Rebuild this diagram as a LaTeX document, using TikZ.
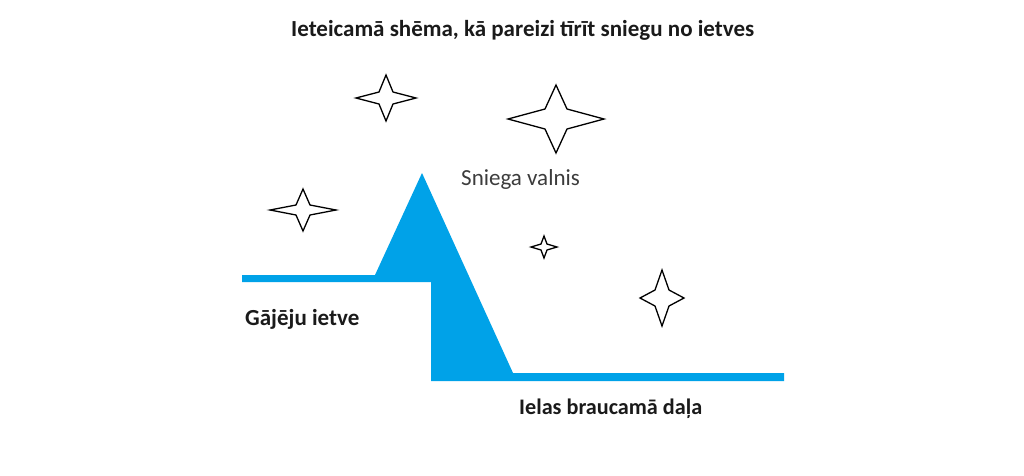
\documentclass[tikz,border=0pt]{standalone}
\usepackage{fontspec}
\setmainfont{Carlito}
\definecolor{snow}{HTML}{00A2E8}
\definecolor{ink}{HTML}{1A1A1A}
\newcommand{\sparkle}[7]{% name, cx, cy, half w, half h, inner x, inner y
  \draw[starline] (#2,#3) ++(0,-#5) coordinate (#1-top)
    -- (#2+#6,#3-#7) -- (#2+#4,#3) coordinate (#1-right)
    -- (#2+#6,#3+#7) -- (#2,#3+#5) coordinate (#1-bottom)
    -- (#2-#6,#3+#7) -- (#2-#4,#3) coordinate (#1-left)
    -- (#2-#6,#3-#7) -- cycle;}
\begin{document}
\begin{tikzpicture}[x=1pt,y=-1pt,
  starline/.style={draw=black,line width=1.3pt,line join=miter,fill=white},
  boldlabel/.style={font=\bfseries\fontsize{23}{26}\selectfont,text=ink,inner sep=0pt,anchor=base west},
  plainlabel/.style={font=\fontsize{23}{26}\selectfont,text=ink!85,inner sep=0pt,anchor=base west}]
\useasboundingbox[fill=white] (0,0) rectangle (1024,475);
% snow profile
\fill[snow] (242,275) coordinate (walkL) -- (375,275) coordinate (footL)
  -- (422,173) coordinate (peak) -- (513,373) coordinate (footR)
  -- (784,373) -- (784,381) coordinate (roadR) -- (431,381) coordinate (curbB)
  -- (431,282) coordinate (curbT) -- (242,282) -- cycle;
% stars
\sparkle{s1}{386}{98}{30}{23}{7}{6}
\sparkle{s2}{556}{119}{48}{34}{11}{10}
\sparkle{s3}{303}{210}{33}{21}{7}{5}
\sparkle{s4}{544}{247}{13}{11}{3}{3}
\sparkle{s5}{662}{298}{22}{28}{7}{8}
% texts
\node[boldlabel] (title) at (291,36.7) {Ieteicamā shēma, kā pareizi tīrīt sniegu no ietves};
\node[plainlabel] (valnis) at (461,185.7) {Sniega valnis};
\node[boldlabel] (ietve) at (245,325) {Gājēju ietve};
\node[boldlabel,font=\bfseries\fontsize{22.2}{25}\selectfont] (iela) at (519,414.5) {Ielas braucamā daļa};
\end{tikzpicture}
\end{document}
